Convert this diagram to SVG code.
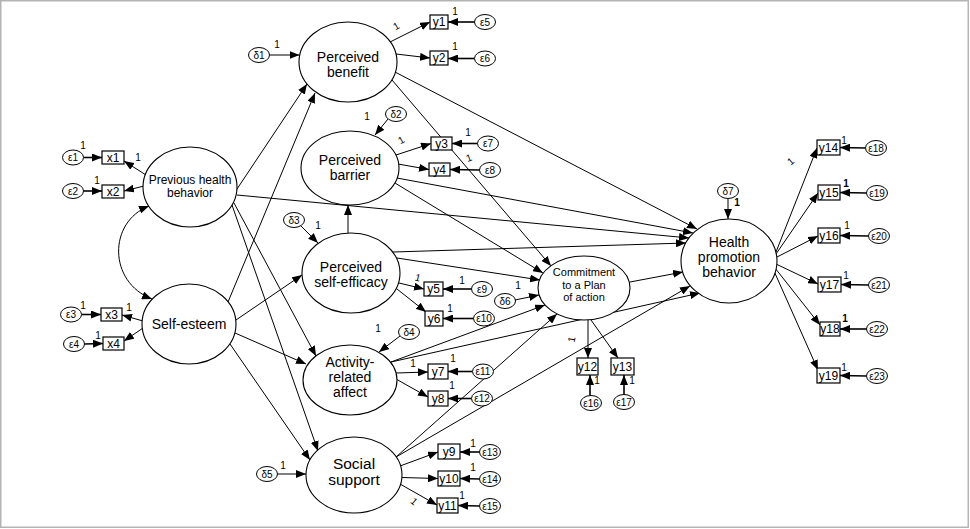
<svg xmlns="http://www.w3.org/2000/svg" width="970" height="529" viewBox="0 0 970 529">
<defs>
<marker id="ah" markerUnits="userSpaceOnUse" markerWidth="11" markerHeight="8" refX="10" refY="4" orient="auto"><path d="M0,0 L10,4 L0,8 z" fill="#000"/></marker>
<marker id="ah2" markerUnits="userSpaceOnUse" markerWidth="11" markerHeight="8" refX="10" refY="4" orient="auto-start-reverse"><path d="M0,0 L10,4 L0,8 z" fill="#000"/></marker>
</defs>
<style>
.lat{fill:#fff;stroke:#000;stroke-width:1.1}
.obs{fill:#fff;stroke:#000;stroke-width:1.2}
.err{fill:#fff;stroke:#000;stroke-width:1}
.c{stroke:#000;stroke-width:1;fill:none;marker-end:url(#ah)}
.ce{stroke:#000;stroke-width:1.6;fill:none;marker-end:url(#ah)}
.t{font-family:"Liberation Sans",Arial,sans-serif;text-anchor:middle;fill:#000}
.bl{font-size:12px}
.el{font-size:10px}
.one{font-family:"Liberation Sans",Arial,sans-serif;font-size:10px;text-anchor:middle;fill:#000}
</style>
<rect x="0.75" y="0.75" width="967.5" height="526.5" fill="#fff" stroke="#b4b4b4" stroke-width="1.5"/>

<g id="connectors">
<path d="M149,206 C108,222 108,282 152,299" stroke="#000" stroke-width="1" fill="none" marker-start="url(#ah2)" marker-end="url(#ah2)"/>
<line class="ce" x1="83.5" y1="157.5" x2="102" y2="157.5"/>
<line class="ce" x1="83.5" y1="191" x2="102" y2="191"/>
<line class="ce" x1="81.5" y1="314.5" x2="101" y2="314.5"/>
<line class="ce" x1="84.5" y1="344" x2="103" y2="343.5"/>
<line class="c" x1="146" y1="175" x2="124" y2="161"/>
<line class="c" x1="144" y1="186" x2="124" y2="191"/>
<line class="c" x1="143" y1="321" x2="122" y2="315"/>
<line class="c" x1="143" y1="328" x2="124" y2="341"/>
<line class="c" x1="269.5" y1="55" x2="299.5" y2="55"/>
<line class="c" x1="390" y1="42" x2="430" y2="22"/>
<line class="c" x1="396" y1="54" x2="430" y2="58"/>
<line class="ce" x1="474.5" y1="22" x2="448" y2="22"/>
<line class="ce" x1="474.5" y1="58.5" x2="448" y2="58.5"/>
<line class="c" x1="388" y1="119" x2="375" y2="135"/>
<line class="c" x1="396" y1="155" x2="431" y2="143.5"/>
<line class="c" x1="398" y1="164" x2="429" y2="169.5"/>
<line class="ce" x1="477.5" y1="143.5" x2="452" y2="143.5"/>
<line class="ce" x1="479.5" y1="170" x2="450" y2="169.5"/>
<line class="c" x1="348" y1="233" x2="348" y2="205"/>
<line class="c" x1="301" y1="226" x2="318" y2="243"/>
<line class="c" x1="399" y1="283" x2="424" y2="289"/>
<line class="c" x1="397" y1="289" x2="426" y2="312"/>
<line class="ce" x1="471.5" y1="289" x2="443" y2="289"/>
<line class="ce" x1="473.5" y1="318.5" x2="443" y2="318.5"/>
<line class="c" x1="400" y1="336" x2="379" y2="352"/>
<line class="c" x1="396" y1="373" x2="428" y2="372"/>
<line class="c" x1="396" y1="379" x2="428" y2="397"/>
<line class="ce" x1="472.5" y1="371.5" x2="448" y2="371.5"/>
<line class="ce" x1="471.5" y1="398.5" x2="448" y2="398.5"/>
<line class="c" x1="277.5" y1="474" x2="306" y2="474"/>
<line class="c" x1="400" y1="466" x2="438" y2="452"/>
<line class="c" x1="402" y1="477.5" x2="438" y2="478.5" stroke-width="2"/>
<line class="c" x1="400" y1="484" x2="437" y2="505"/>
<line class="ce" x1="479.5" y1="452" x2="460" y2="452"/>
<line class="ce" x1="479.5" y1="479" x2="460" y2="478.5"/>
<line class="ce" x1="479.5" y1="506" x2="458" y2="505.5"/>
<line class="c" x1="515" y1="300" x2="539" y2="295"/>
<line class="c" x1="588" y1="320" x2="588" y2="358"/>
<line class="c" x1="591" y1="320" x2="618" y2="358"/>
<line class="ce" x1="590" y1="395.5" x2="590" y2="375"/>
<line class="ce" x1="624" y1="394.5" x2="624" y2="375"/>
<line class="c" x1="392" y1="80" x2="551" y2="266"/>
<line class="c" x1="395" y1="183" x2="543" y2="273"/>
<line class="c" x1="397" y1="258" x2="540" y2="280"/>
<line class="c" x1="391" y1="362" x2="545" y2="305"/>
<line class="c" x1="396" y1="457" x2="557" y2="314"/>
<line class="c" x1="395" y1="72" x2="697" y2="229"/>
<line class="c" x1="397" y1="178" x2="693" y2="233"/>
<line class="c" x1="237" y1="195" x2="689" y2="238"/>
<line class="c" x1="393" y1="252" x2="686" y2="243"/>
<line class="c" x1="630" y1="282" x2="683" y2="272"/>
<line class="c" x1="391" y1="362" x2="700" y2="293"/>
<line class="c" x1="396" y1="457" x2="690" y2="286"/>
<line class="c" x1="728" y1="198.5" x2="728" y2="219"/>
<line class="c" x1="235" y1="192" x2="307" y2="84"/>
<line class="c" x1="228" y1="302" x2="315" y2="93"/>
<line class="c" x1="236" y1="320" x2="302" y2="275"/>
<line class="c" x1="234" y1="203" x2="316" y2="356"/>
<line class="c" x1="232" y1="205" x2="318" y2="451"/>
<line class="c" x1="235" y1="333" x2="306" y2="364"/>
<line class="c" x1="230" y1="344" x2="310" y2="460"/>
<line class="c" x1="776" y1="252" x2="817" y2="148"/>
<line class="c" x1="776" y1="254" x2="818" y2="193"/>
<line class="c" x1="777" y1="257" x2="818" y2="236"/>
<line class="c" x1="776" y1="264" x2="818" y2="284"/>
<line class="c" x1="775" y1="268" x2="820" y2="325"/>
<line class="c" x1="774" y1="271" x2="818" y2="370"/>
<line class="ce" x1="865.5" y1="148" x2="840" y2="147.5"/>
<line class="ce" x1="866.5" y1="193" x2="840" y2="192.5"/>
<line class="ce" x1="868.5" y1="236" x2="840" y2="235.5"/>
<line class="ce" x1="868.5" y1="285" x2="841" y2="284.5"/>
<line class="ce" x1="866.5" y1="329" x2="840" y2="329"/>
<line class="ce" x1="866.5" y1="376" x2="840" y2="375.5"/>
</g>

<g id="labels-1">
<text class="one" x="83" y="149">1</text>
<text class="one" x="138" y="161">1</text>
<text class="one" x="97" y="184">1</text>
<text class="one" x="83" y="309">1</text>
<text class="one" x="129" y="311">1</text>
<text class="one" x="98" y="339">1</text>
<text class="one" x="277" y="48">1</text>
<text class="one" transform="translate(398,29) rotate(-30)">1</text>
<text class="one" x="455" y="15">1</text>
<text class="one" x="455" y="50">1</text>
<text class="one" x="367" y="120">1</text>
<text class="one" transform="translate(403,143) rotate(-30)">1</text>
<text class="one" x="468" y="136">1</text>
<text class="one" transform="translate(470,161) rotate(-20)">1</text>
<text class="one" x="318" y="229">1</text>
<text class="one" transform="translate(417,281) rotate(15)">1</text>
<text class="one" x="462" y="284">1</text>
<text class="one" x="450" y="312">1</text>
<text class="one" x="518" y="289">1</text>
<text class="one" x="378" y="332">1</text>
<text class="one" x="413" y="367">1</text>
<text class="one" x="453" y="362">1</text>
<text class="one" x="452" y="389">1</text>
<text class="one" x="283" y="469">1</text>
<text class="one" x="473" y="447">1</text>
<text class="one" x="473" y="471">1</text>
<text class="one" x="462" y="499">1</text>
<text class="one" transform="translate(412,504) rotate(40)">1</text>
<text class="one" transform="translate(575,340) rotate(-80)">1</text>
<text class="one" x="597" y="384">1</text>
<text class="one" x="632" y="384">1</text>
<text class="one" x="737" y="206" font-weight="bold">1</text>
<text class="one" transform="translate(793,164) rotate(-40)">1</text>
<text class="one" x="844" y="144">1</text>
<text class="one" x="846" y="187" font-weight="bold">1</text>
<text class="one" x="847" y="229">1</text>
<text class="one" x="846" y="279">1</text>
<text class="one" x="845" y="322" font-weight="bold">1</text>
<text class="one" x="844" y="371">1</text>
</g>

<g id="PHB"><ellipse class="lat" cx="190" cy="187" rx="47" ry="40"/><text class="t" font-size="12" x="190" y="184">Previous health</text><text class="t" font-size="12" x="190" y="197">behavior</text></g>
<g id="SE"><ellipse class="lat" cx="189" cy="324" rx="47" ry="40"/><text class="t" font-size="14" x="189" y="329">Self-esteem</text></g>
<g id="PB"><ellipse class="lat" cx="348" cy="62" rx="49" ry="40"/><text class="t" font-size="14" x="348" y="62">Perceived</text><text class="t" font-size="14" x="348" y="77">benefit</text></g>
<g id="PBar"><ellipse class="lat" cx="350" cy="168" rx="49" ry="37"/><text class="t" font-size="14" x="350" y="165">Perceived</text><text class="t" font-size="14" x="350" y="180">barrier</text></g>
<g id="PSE"><ellipse class="lat" cx="351" cy="273" rx="49" ry="40"/><text class="t" font-size="14" x="351" y="272">Perceived</text><text class="t" font-size="14" x="351" y="287">self-efficacy</text></g>
<g id="ARA"><ellipse class="lat" cx="350" cy="380" rx="47" ry="35"/><text class="t" font-size="14" x="350" y="367">Activity-</text><text class="t" font-size="14" x="350" y="382">related</text><text class="t" font-size="14" x="350" y="397">affect</text></g>
<g id="SS"><ellipse class="lat" cx="354" cy="475" rx="48" ry="38"/><text class="t" font-size="15.5" x="354" y="468.5">Social</text><text class="t" font-size="15.5" x="354" y="484.5">support</text></g>
<g id="CPA"><ellipse class="lat" cx="584" cy="288" rx="46" ry="32"/><text class="t" font-size="11" x="584" y="276">Commitment</text><text class="t" font-size="11" x="584" y="288.5">to a Plan</text><text class="t" font-size="11" x="584" y="301">of action</text></g>
<g id="HPB"><ellipse class="lat" cx="729" cy="261" rx="48" ry="42"/><text class="t" font-size="14" x="729" y="247">Health</text><text class="t" font-size="14" x="729" y="262">promotion</text><text class="t" font-size="14" x="729" y="277">behavior</text></g>

<g id="x1"><rect class="obs" x="102" y="151" width="22" height="13"/><text class="t bl" x="113" y="161.5">x1</text></g>
<g id="x2"><rect class="obs" x="102" y="185" width="22" height="13"/><text class="t bl" x="113" y="195.5">x2</text></g>
<g id="x3"><rect class="obs" x="101" y="308" width="21" height="13"/><text class="t bl" x="111.5" y="318.5">x3</text></g>
<g id="x4"><rect class="obs" x="103" y="337" width="21" height="13"/><text class="t bl" x="113.5" y="347.5">x4</text></g>
<g id="y1"><rect class="obs" x="430" y="15" width="18" height="14"/><text class="t bl" x="439" y="26">y1</text></g>
<g id="y2"><rect class="obs" x="430" y="51" width="18" height="14"/><text class="t bl" x="439" y="62">y2</text></g>
<g id="y3"><rect class="obs" x="431" y="137" width="21" height="13"/><text class="t bl" x="441.5" y="147.5">y3</text></g>
<g id="y4"><rect class="obs" x="429" y="163" width="21" height="13"/><text class="t bl" x="439.5" y="173.5">y4</text></g>
<g id="y5"><rect class="obs" x="424" y="282" width="19" height="14"/><text class="t bl" x="433.5" y="293">y5</text></g>
<g id="y6"><rect class="obs" x="425" y="311" width="18" height="15"/><text class="t bl" x="434" y="322.5">y6</text></g>
<g id="y7"><rect class="obs" x="428" y="364" width="20" height="15"/><text class="t bl" x="438" y="375.5">y7</text></g>
<g id="y8"><rect class="obs" x="428" y="391" width="20" height="15"/><text class="t bl" x="438" y="402.5">y8</text></g>
<g id="y9"><rect class="obs" x="438" y="444" width="22" height="15"/><text class="t bl" x="449" y="455.5">y9</text></g>
<g id="y10"><rect class="obs" x="438" y="471" width="22" height="15"/><text class="t bl" x="449" y="482.5">y10</text></g>
<g id="y11"><rect class="obs" x="437" y="498" width="21" height="15"/><text class="t bl" x="447.5" y="509.5">y11</text></g>
<g id="y12"><rect class="obs" x="577" y="358" width="21" height="17"/><text class="t bl" x="587.5" y="370.5">y12</text></g>
<g id="y13"><rect class="obs" x="611" y="358" width="23" height="17"/><text class="t bl" x="622.5" y="370.5">y13</text></g>
<g id="y14"><rect class="obs" x="817" y="140" width="23" height="15"/><text class="t bl" x="828.5" y="151.5">y14</text></g>
<g id="y15"><rect class="obs" x="818" y="185" width="22" height="15"/><text class="t bl" x="829" y="196.5">y15</text></g>
<g id="y16"><rect class="obs" x="818" y="228" width="22" height="15"/><text class="t bl" x="829" y="239.5">y16</text></g>
<g id="y17"><rect class="obs" x="818" y="277" width="23" height="15"/><text class="t bl" x="829.5" y="288.5">y17</text></g>
<g id="y18"><rect class="obs" x="820" y="322" width="20" height="14"/><text class="t bl" x="830" y="333">y18</text></g>
<g id="y19"><rect class="obs" x="817" y="368" width="23" height="15"/><text class="t bl" x="828.5" y="379.5">y19</text></g>

<g id="e1"><ellipse class="err" cx="73" cy="157.5" rx="10.5" ry="7.5"/><text class="t el" x="73" y="161">ε1</text></g>
<g id="e2"><ellipse class="err" cx="73" cy="191" rx="10.5" ry="7.5"/><text class="t el" x="73" y="194.5">ε2</text></g>
<g id="e3"><ellipse class="err" cx="71" cy="314.5" rx="10.5" ry="7.5"/><text class="t el" x="71" y="318">ε3</text></g>
<g id="e4"><ellipse class="err" cx="74" cy="344" rx="10.5" ry="7.5"/><text class="t el" x="74" y="347.5">ε4</text></g>
<g id="e5"><ellipse class="err" cx="485" cy="22" rx="10.5" ry="7.5"/><text class="t el" x="485" y="25.5">ε5</text></g>
<g id="e6"><ellipse class="err" cx="485" cy="58.5" rx="10.5" ry="7.5"/><text class="t el" x="485" y="62">ε6</text></g>
<g id="e7"><ellipse class="err" cx="488" cy="143.5" rx="10.5" ry="7.5"/><text class="t el" x="488" y="147">ε7</text></g>
<g id="e8"><ellipse class="err" cx="490" cy="170" rx="10.5" ry="7.5"/><text class="t el" x="490" y="173.5">ε8</text></g>
<g id="e9"><ellipse class="err" cx="482" cy="289" rx="10.5" ry="7.5"/><text class="t el" x="482" y="292.5">ε9</text></g>
<g id="e10"><ellipse class="err" cx="484" cy="318.5" rx="10.5" ry="7.5"/><text class="t el" x="484" y="322">ε10</text></g>
<g id="e11"><ellipse class="err" cx="483" cy="371.5" rx="10.5" ry="7.5"/><text class="t el" x="483" y="375">ε11</text></g>
<g id="e12"><ellipse class="err" cx="482" cy="398.5" rx="10.5" ry="7.5"/><text class="t el" x="482" y="402">ε12</text></g>
<g id="e13"><ellipse class="err" cx="490" cy="452" rx="10.5" ry="7.5"/><text class="t el" x="490" y="455.5">ε13</text></g>
<g id="e14"><ellipse class="err" cx="490" cy="479" rx="10.5" ry="7.5"/><text class="t el" x="490" y="482.5">ε14</text></g>
<g id="e15"><ellipse class="err" cx="490" cy="506" rx="10.5" ry="7.5"/><text class="t el" x="490" y="509.5">ε15</text></g>
<g id="e16"><ellipse class="err" cx="591" cy="403" rx="10.5" ry="7.5"/><text class="t el" x="591" y="406.5">ε16</text></g>
<g id="e17"><ellipse class="err" cx="624" cy="402" rx="10.5" ry="7.5"/><text class="t el" x="624" y="405.5">ε17</text></g>
<g id="e18"><ellipse class="err" cx="876" cy="148" rx="10.5" ry="7.5"/><text class="t el" x="876" y="151.5">ε18</text></g>
<g id="e19"><ellipse class="err" cx="877" cy="193" rx="10.5" ry="7.5"/><text class="t el" x="877" y="196.5">ε19</text></g>
<g id="e20"><ellipse class="err" cx="879" cy="236" rx="10.5" ry="7.5"/><text class="t el" x="879" y="239.5">ε20</text></g>
<g id="e21"><ellipse class="err" cx="879" cy="285" rx="10.5" ry="7.5"/><text class="t el" x="879" y="288.5">ε21</text></g>
<g id="e22"><ellipse class="err" cx="877" cy="329" rx="10.5" ry="7.5"/><text class="t el" x="877" y="332.5">ε22</text></g>
<g id="e23"><ellipse class="err" cx="877" cy="376" rx="10.5" ry="7.5"/><text class="t el" x="877" y="379.5">ε23</text></g>
<g id="d1"><ellipse class="err" cx="259" cy="55" rx="10.5" ry="7.5"/><text class="t el" x="259" y="58.5">δ1</text></g>
<g id="d2"><ellipse class="err" cx="396" cy="114" rx="10.5" ry="7.5"/><text class="t el" x="396" y="117.5">δ2</text></g>
<g id="d3"><ellipse class="err" cx="294" cy="220" rx="10.5" ry="7.5"/><text class="t el" x="294" y="223.5">δ3</text></g>
<g id="d4"><ellipse class="err" cx="409" cy="332" rx="10.5" ry="7.5"/><text class="t el" x="409" y="335.5">δ4</text></g>
<g id="d5"><ellipse class="err" cx="267" cy="474" rx="10.5" ry="7.5"/><text class="t el" x="267" y="477.5">δ5</text></g>
<g id="d6"><ellipse class="err" cx="505" cy="301" rx="10.5" ry="7.5"/><text class="t el" x="505" y="304.5">δ6</text></g>
<g id="d7"><ellipse class="err" cx="728" cy="191" rx="10.5" ry="7.5"/><text class="t el" x="728" y="194.5">δ7</text></g>
</svg>
